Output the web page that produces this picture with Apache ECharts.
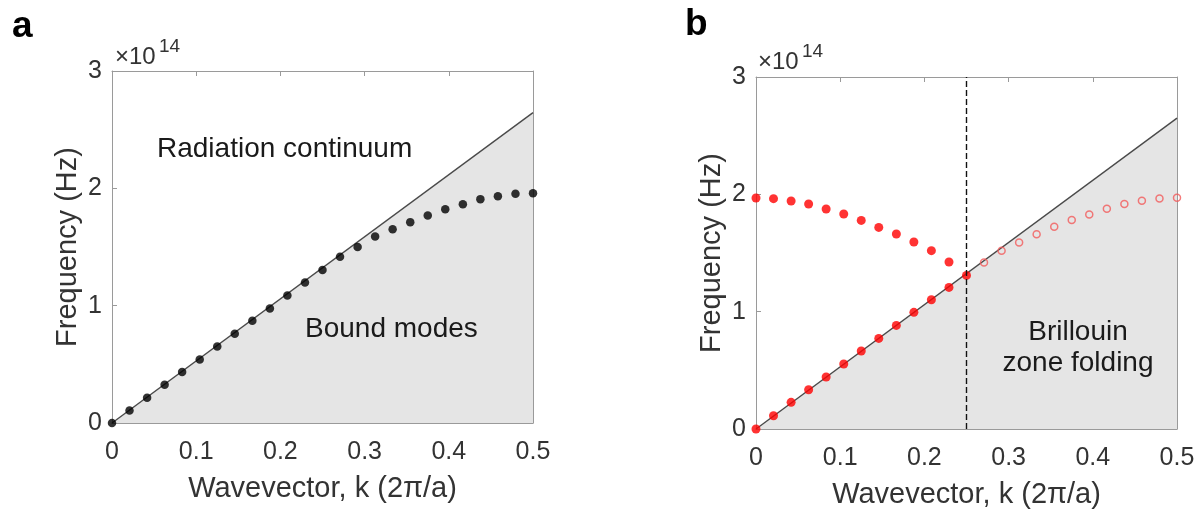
<!DOCTYPE html>
<html>
<head>
<meta charset="utf-8">
<style>
  html, body { margin: 0; padding: 0; background: #fff; }
  #chart { width: 1204px; height: 514px; }
</style>
<script src="https://cdn.jsdelivr.net/npm/echarts@6/dist/echarts.min.js"></script>
</head>
<body>
<div id="chart"></div>
<script>
// wavevector samples, k in units of 2π/a
const kValues = [0, 0.0208, 0.0417, 0.0625, 0.0833, 0.1042, 0.125, 0.1458, 0.1667,
  0.1875, 0.2083, 0.2292, 0.25, 0.2708, 0.2917, 0.3125, 0.3333, 0.3542, 0.375,
  0.3958, 0.4167, 0.4375, 0.4583, 0.4792, 0.5];

// frequencies in units of 1e14 Hz
const bandA = [0, 0.107, 0.215, 0.326, 0.434, 0.542, 0.652, 0.760, 0.871, 0.976,
  1.087, 1.197, 1.303, 1.416, 1.501, 1.589, 1.652, 1.712, 1.768, 1.822, 1.865,
  1.908, 1.933, 1.953, 1.959];
const bandBLower = [0, 0.113, 0.227, 0.335, 0.443, 0.554, 0.665, 0.772, 0.883,
  0.994, 1.102, 1.207, 1.309];
const bandBUpper = [1.969, 1.963, 1.943, 1.918, 1.875, 1.832, 1.778, 1.718, 1.662,
  1.594, 1.520, 1.423];
const bandBOpen = [1.420, 1.520, 1.590, 1.659, 1.724, 1.781, 1.829, 1.878, 1.918,
  1.946, 1.965, 1.971];

const lightLineK = [0, 0.5];
const lightLineA = [0, 2.645];
const lightLineB = [0, 2.65];
const foldK = 0.25;
const xTicks = [0, 0.1, 0.2, 0.3, 0.4, 0.5];
const yTicks = [0, 1, 2, 3];

const FONT = '"Liberation Sans", Arial, sans-serif';
const AXIS_GRAY = "#9a9a9a";
const TEXT = "#333";
const NOTE = "#1a1a1a";

const pairs = (xs, ys) => ys.map((y, i) => [xs[i], y]);

const grids = [
  { left: 112, top: 71, width: 421, height: 352 },
  { left: 756, top: 77, width: 421, height: 352 },
];

const makeX = (gridIndex, bottom) => ({
  type: "value",
  gridIndex,
  position: bottom ? "bottom" : "top",
  min: xTicks[0],
  max: xTicks[xTicks.length - 1],
  interval: 0.1,
  name: bottom ? "Wavevector, k (2\u03c0/a)" : "",
  nameLocation: "middle",
  nameGap: 51,
  nameTextStyle: { fontFamily: FONT, fontSize: 29, color: TEXT },
  axisLine: { show: true, onZero: false, lineStyle: { color: AXIS_GRAY, width: 1 } },
  axisTick: { show: true, inside: true, length: 5, lineStyle: { color: AXIS_GRAY } },
  axisLabel: {
    show: bottom,
    margin: 17,
    fontFamily: FONT,
    fontSize: 25,
    color: TEXT,
    formatter: (v) => (v === 0 ? "0" : String(+v.toFixed(1))),
  },
  splitLine: { show: false },
});

const makeY = (gridIndex, left) => ({
  type: "value",
  gridIndex,
  position: left ? "left" : "right",
  min: yTicks[0],
  max: yTicks[yTicks.length - 1],
  interval: 1,
  name: left ? "Frequency (Hz)" : "",
  nameLocation: "middle",
  nameGap: 30,
  nameTextStyle: { fontFamily: FONT, fontSize: 29, color: TEXT },
  axisLine: { show: true, onZero: false, lineStyle: { color: AXIS_GRAY, width: 1 } },
  axisTick: { show: true, inside: true, length: 5, lineStyle: { color: AXIS_GRAY } },
  axisLabel: {
    show: left,
    margin: 10,
    lineHeight: 25,
    padding: [6, 0, 0, 0],
    fontFamily: FONT,
    fontSize: 25,
    color: TEXT,
  },
  splitLine: { show: false },
});

const lightLineSeries = (idx, ys) => ({
  type: "line",
  xAxisIndex: idx * 2,
  yAxisIndex: idx * 2,
  data: pairs(lightLineK, ys),
  symbol: "none",
  lineStyle: { color: "#4a4a4a", width: 1.4 },
  areaStyle: { color: "#e5e5e5", opacity: 1 },
  z: 1,
  silent: true,
});

const note = (props, text, size) => ({
  type: "text",
  z: 100,
  ...props,
  style: { text, font: `${size}px ${FONT}`, fill: NOTE, ...(props.style || {}) },
});

const chart = echarts.init(document.getElementById("chart"));

chart.setOption({
  animation: false,
  backgroundColor: "#fff",
  grid: grids,
  xAxis: [makeX(0, true), makeX(0, false), makeX(1, true), makeX(1, false)],
  yAxis: [makeY(0, true), makeY(0, false), makeY(1, true), makeY(1, false)],
  series: [
    lightLineSeries(0, lightLineA),
    {
      type: "scatter",
      xAxisIndex: 0,
      yAxisIndex: 0,
      data: pairs(kValues, bandA),
      symbol: "circle",
      symbolSize: 8.5,
      itemStyle: { color: "#000" },
      z: 3,
    },
    lightLineSeries(1, lightLineB),
    {
      type: "scatter",
      xAxisIndex: 2,
      yAxisIndex: 2,
      data: pairs(kValues, bandBLower),
      symbol: "circle",
      symbolSize: 9,
      itemStyle: { color: "#ff0000" },
      z: 3,
    },
    {
      type: "scatter",
      xAxisIndex: 2,
      yAxisIndex: 2,
      data: pairs(kValues, bandBUpper),
      symbol: "circle",
      symbolSize: 9,
      itemStyle: { color: "#ff0000" },
      z: 3,
    },
    {
      type: "scatter",
      xAxisIndex: 2,
      yAxisIndex: 2,
      data: pairs(kValues.slice(13), bandBOpen),
      symbol: "circle",
      symbolSize: 7,
      itemStyle: { color: "transparent", borderColor: "#f25a5a", borderWidth: 1.5 },
      z: 3,
    },
    {
      type: "line",
      xAxisIndex: 2,
      yAxisIndex: 2,
      data: [[foldK, yTicks[0]], [foldK, yTicks[yTicks.length - 1]]],
      symbol: "none",
      lineStyle: { color: "#111", width: 1.4, type: [6, 3] },
      z: 4,
      silent: true,
    },
  ],
  graphic: [
    { type: "text", z: 100, left: 12, top: 8, style: { text: "a", font: `bold 37px ${FONT}`, fill: "#000" } },
    { type: "text", z: 100, left: 685, top: 6, style: { text: "b", font: `bold 37px ${FONT}`, fill: "#000" } },
    { type: "text", z: 100, left: 115, top: 45, style: { text: "\u00d710", font: `24px ${FONT}`, fill: TEXT } },
    { type: "text", z: 100, left: 159, top: 37, style: { text: "14", font: `19px ${FONT}`, fill: TEXT } },
    { type: "text", z: 100, left: 758, top: 50, style: { text: "\u00d710", font: `24px ${FONT}`, fill: TEXT } },
    { type: "text", z: 100, left: 802, top: 42, style: { text: "14", font: `19px ${FONT}`, fill: TEXT } },
    note({ left: 157, top: 135 }, "Radiation continuum", 28),
    note({ left: 305, top: 315 }, "Bound modes", 28),
    note(
      { x: 1078, y: 348, style: { textAlign: "center", textVerticalAlign: "middle", lineHeight: 31 } },
      "Brillouin\nzone folding",
      28
    ),
  ],
});
</script>
</body>
</html>
